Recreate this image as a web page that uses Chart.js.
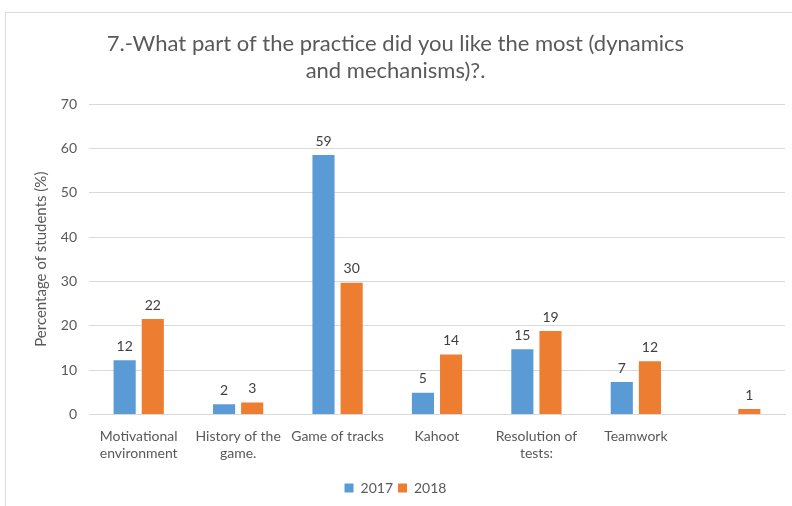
<!DOCTYPE html>
<html>
<head>
<meta charset="utf-8">
<script src="https://cdn.jsdelivr.net/npm/chart.js@4"></script>
<style>
  html, body { margin: 0; padding: 0; background: #fff; overflow: hidden; }
  #box { position: absolute; left: 5px; top: 12px; width: 800px; height: 500px; border: 1px solid #d9d9d9; box-sizing: border-box; }
  canvas { display: block; }
</style>
</head>
<body>
<div id="box"><canvas id="c"></canvas></div>
<script>
const categories = [["Motivational", "environment"], ["History of the", "game."], "Game of tracks", "Kahoot", ["Resolution of", "tests:"], "Teamwork", ""];
const values2017 = [12.2, 2.3, 58.5, 4.9, 14.7, 7.3, null];
const values2018 = [21.5, 2.7, 29.7, 13.5, 18.8, 12.0, 1.2];
const yTicks = [0, 10, 20, 30, 40, 50, 60, 70];

const textColor = "#595959";
const font = "'Lato', sans-serif";

const valueLabels = {
    id: "valueLabels",
    afterDatasetsDraw(chart) {
        const ctx = chart.ctx;
        ctx.save();
        ctx.fillStyle = "#404040";
        ctx.font = "14px " + font;
        ctx.textAlign = "center";
        ctx.textBaseline = "bottom";
        chart.data.datasets.forEach((ds, i) => {
            chart.getDatasetMeta(i).data.forEach((bar, j) => {
                if (ds.data[j] == null) return;
                ctx.fillText(Math.round(ds.data[j]), bar.x, bar.y - 7);
            });
        });
        ctx.restore();
    }
};

new Chart(document.getElementById("c"), {
    type: "bar",
    data: {
        labels: categories,
        datasets: [
            { label: "2017", data: values2017, backgroundColor: "#5b9bd5" },
            { label: "2018", data: values2018, backgroundColor: "#ed7d31" }
        ]
    },
    options: {
        responsive: true,
        maintainAspectRatio: false,
        animation: false,
        layout: { padding: { left: 0, right: 19, top: 8, bottom: 6 } },
        datasets: { bar: { categoryPercentage: 0.566, barPercentage: 0.786 } },
        plugins: {
            title: {
                display: true,
                text: ["7.-What part of the practice did you like the most (dynamics", "and mechanisms)?."],
                color: textColor,
                font: { family: font, size: 22, weight: "normal", lineHeight: 1.25 },
                padding: { top: 9, bottom: 19 }
            },
            legend: {
                position: "bottom",
                labels: {
                    color: textColor,
                    font: { family: font, size: 14 },
                    boxWidth: 9, boxHeight: 9, padding: 5
                }
            },
            tooltip: { enabled: false }
        },
        scales: {
            x: {
                grid: { display: false, drawTicks: false },
                border: { color: "#d9d9d9" },
                ticks: { color: textColor, font: { family: font, size: 14 }, maxRotation: 0, autoSkip: false, padding: 14 }
            },
            y: {
                min: 0, max: 70,
                afterBuildTicks(axis) { axis.ticks = yTicks.map(v => ({ value: v })); },
                afterFit(axis) { axis.width = 83; },
                grid: { color: "#d9d9d9", drawTicks: false },
                border: { display: false },
                ticks: { color: textColor, font: { family: font, size: 14 }, padding: 12 },
                title: { display: true, text: "Percentage of students (%)", color: textColor, font: { family: font, size: 15 }, padding: { top: 26, bottom: 0 } }
            }
        }
    },
    plugins: [valueLabels]
});
</script>
</body>
</html>
